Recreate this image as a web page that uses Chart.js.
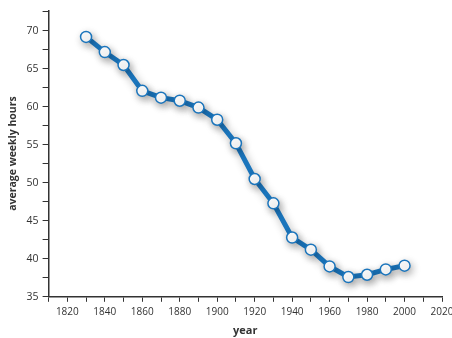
<!DOCTYPE html>
<html>
<head>
<meta charset="utf-8">
<script src="https://cdn.jsdelivr.net/npm/chart.js@4"></script>
<style>
  html, body { margin: 0; padding: 0; background: #fff; }
  #wrap { width: 452px; height: 338px; }
</style>
</head>
<body>
<div id="wrap"><canvas id="hoursChart"></canvas></div>
<script>
const years = [1830, 1840, 1850, 1860, 1870, 1880, 1890, 1900, 1910, 1920,
               1930, 1940, 1950, 1960, 1970, 1980, 1990, 2000];
const hours = [69.2, 67.2, 65.5, 62.1, 61.2, 60.8, 59.9, 58.3, 55.2, 50.5,
               47.3, 42.8, 41.2, 39.0, 37.6, 37.9, 38.6, 39.1];
const xTicks = [1810, 1820, 1830, 1840, 1850, 1860, 1870, 1880, 1890, 1900, 1910,
                1920, 1930, 1940, 1950, 1960, 1970, 1980, 1990, 2000, 2010, 2020];
const yTicks = [35, 37.5, 40, 42.5, 45, 47.5, 50, 52.5, 55, 57.5, 60, 62.5, 65, 67.5, 70, 72.5];

const lineBlue = '#1b75bc';
const axisColor = '#333333';

// soft grey shadow under the line
const shadowPlugin = {
    id: 'lineShadow',
    beforeDatasetDraw(chart) {
        const ctx = chart.ctx;
        ctx.save();
        ctx.shadowColor = 'rgba(0,0,0,0.3)';
        ctx.shadowBlur = 8;
        ctx.shadowOffsetX = 2;
        ctx.shadowOffsetY = 3;
    },
    afterDatasetDraw(chart) {
        chart.ctx.restore();
    }
};

const config = {
    type: 'line',
    data: {
        datasets: [{
            data: years.map((y, i) => ({ x: y, y: hours[i] })),
            borderColor: lineBlue,
            borderWidth: 5,
            pointRadius: 5.5,
            pointBorderWidth: 1.5,
            pointBackgroundColor: '#ffffff',
            pointBorderColor: lineBlue,
            tension: 0,
        }]
    },
    options: {
        responsive: true,
        maintainAspectRatio: false,
        animation: false,
        layout: { padding: { top: 6, right: 10, left: 7, bottom: 1 } },
        scales: {
            x: {
                type: 'linear',
                min: 1810,
                max: 2020,
                afterBuildTicks: axis => { axis.ticks = xTicks.map(v => ({ value: v })); },
                // let the last label run off the edge, as in the print
                afterFit: axis => { axis.paddingRight = 0; },
                grid: { drawOnChartArea: false, drawTicks: true, tickLength: 5, color: axisColor },
                border: { display: true, color: axisColor, width: 1.5 },
                ticks: {
                    autoSkip: false,
                    maxRotation: 0,
                    color: axisColor,
                    font: { family: 'Open Sans', size: 10 },
                    padding: 4,
                    callback: v => (v % 20 === 0 ? String(v) : '')
                },
                title: {
                    display: true,
                    text: 'year',
                    color: axisColor,
                    font: { family: 'Open Sans', size: 11, weight: 'bold' },
                    padding: { top: 2, bottom: 0 }
                }
            },
            y: {
                min: 35,
                max: 72.7,
                afterBuildTicks: axis => { axis.ticks = yTicks.map(v => ({ value: v })); },
                grid: { drawOnChartArea: false, drawTicks: true, tickLength: 6, color: axisColor },
                border: { display: true, color: axisColor, width: 1.5 },
                ticks: {
                    autoSkip: false,
                    color: axisColor,
                    font: { family: 'Open Sans', size: 10.5 },
                    padding: 4,
                    callback: v => (v % 5 === 0 ? String(v) : '')
                },
                title: {
                    display: true,
                    text: 'average weekly hours',
                    color: axisColor,
                    font: { family: 'Open Sans', size: 10.5, weight: 'bold' },
                    padding: { top: 0, bottom: 3 }
                }
            }
        },
        plugins: {
            legend: { display: false },
            tooltip: { enabled: false }
        }
    },
    plugins: [shadowPlugin]
};

const ctx = document.getElementById('hoursChart').getContext('2d');
const chart = new Chart(ctx, config);
</script>
</body>
</html>
